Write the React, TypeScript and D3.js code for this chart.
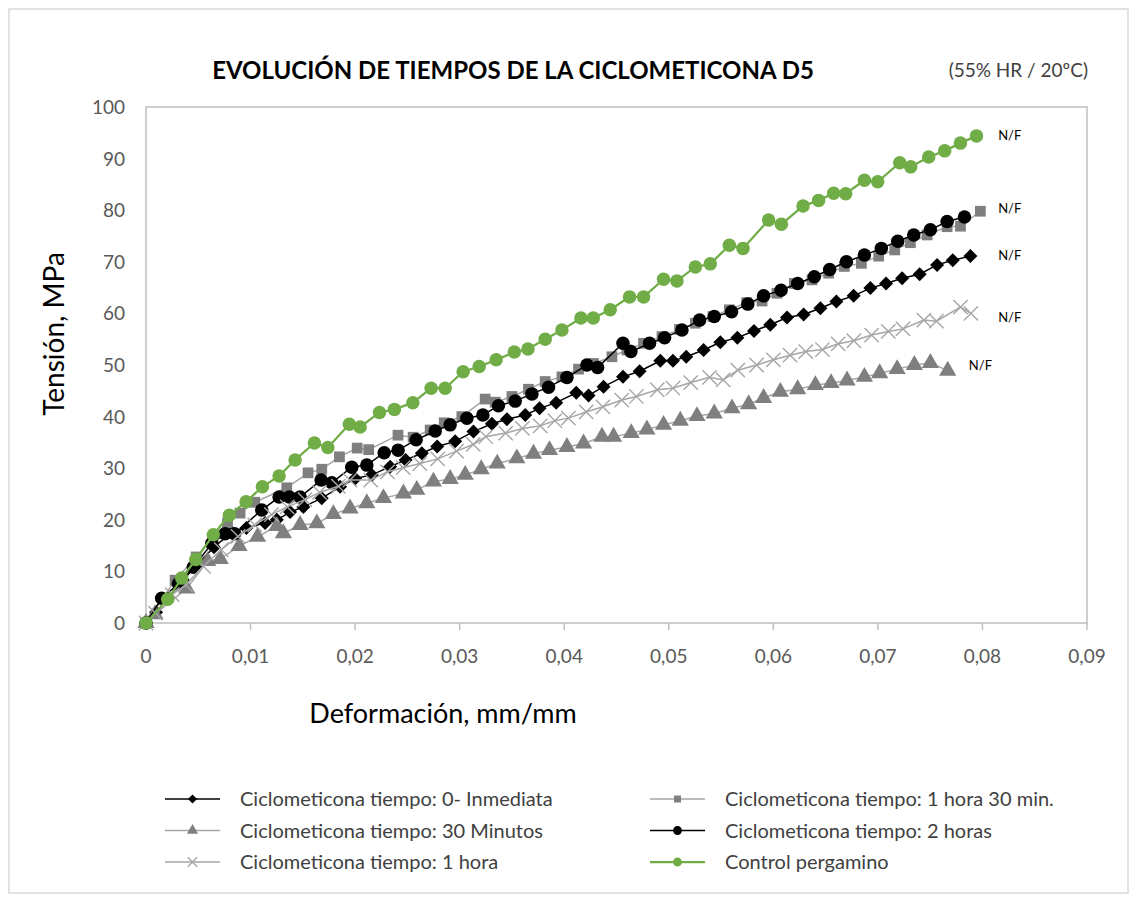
import React from 'react';
import * as d3 from 'd3';

// strain (mm/mm) , stress (MPa)
const inmediata: [number, number][] = [
  [0, 0], [0.00096, 2.1], [0.0021, 4.8], [0.00354, 8.3], [0.005, 11.6], [0.0065, 14.7],
  [0.0082, 17.6], [0.0096, 18.4], [0.01139, 19.4], [0.01251, 20.0], [0.01378, 21.5],
  [0.01505, 22.5], [0.01681, 24.2], [0.01856, 26.4], [0.02, 28.0], [0.0216, 28.7],
  [0.02335, 30.3], [0.02483, 31.6], [0.02638, 32.9], [0.02785, 34.2], [0.02957, 35.2],
  [0.03132, 37.1], [0.03308, 38.6], [0.03452, 39.5], [0.03627, 40.3], [0.03764, 41.6],
  [0.03923, 42.7], [0.04115, 44.6], [0.04233, 44.1], [0.04376, 45.8], [0.04562, 47.7],
  [0.04721, 48.8], [0.04919, 50.8], [0.0504, 50.8], [0.05167, 51.6], [0.05333, 52.9],
  [0.05493, 54.4], [0.05656, 55.3], [0.05815, 56.6], [0.05971, 57.8], [0.06131, 59.2],
  [0.0629, 59.8], [0.0645, 61.0], [0.06603, 62.3], [0.06768, 63.4], [0.06928, 64.9],
  [0.07078, 65.8], [0.07232, 66.8], [0.074, 67.6], [0.07566, 69.4], [0.07716, 70.3],
  [0.07885, 71.1],
];

const unaHoraTreinta: [number, number][] = [
  [0, 0], [0.00278, 8.3], [0.0048, 12.8], [0.0064, 16.5], [0.0078, 19.4], [0.009, 21.3],
  [0.0104, 23.4], [0.01346, 26.2], [0.0155, 29.1], [0.01681, 29.8], [0.0185, 32.2],
  [0.0202, 33.9], [0.0213, 33.6], [0.0241, 36.4], [0.02555, 36.0], [0.02718, 37.4],
  [0.02852, 38.8], [0.03021, 40.0], [0.03244, 43.4], [0.0334, 42.8], [0.035, 43.9],
  [0.03658, 45.3], [0.03818, 46.8], [0.03978, 47.7], [0.04137, 49.2], [0.0428, 50.3],
  [0.04456, 51.6], [0.046, 52.9], [0.04759, 54.2], [0.04935, 55.5], [0.05103, 56.9],
  [0.05254, 58.1], [0.05423, 59.4], [0.05579, 60.7], [0.05746, 62.1], [0.05892, 62.4],
  [0.06035, 63.9], [0.06201, 65.8], [0.0637, 66.5], [0.06529, 67.8], [0.06679, 69.1],
  [0.06842, 69.7], [0.07008, 71.1], [0.07161, 72.3], [0.07311, 73.7], [0.07471, 75.2],
  [0.07662, 76.8], [0.0779, 76.9], [0.0798, 79.8],
];

const treintaMin: [number, number][] = [
  [0, 0], [0.00086, 1.7], [0.0039, 6.7], [0.0059, 12.0], [0.0071, 12.4], [0.0089, 14.9],
  [0.01067, 16.7], [0.01251, 18.8], [0.01314, 17.4], [0.01474, 19.0], [0.01634, 19.3],
  [0.01792, 21.1], [0.01952, 22.2], [0.02112, 23.2], [0.02271, 24.2], [0.02462, 25.1],
  [0.0259, 25.8], [0.02749, 27.4], [0.02909, 27.9], [0.03053, 28.7], [0.03206, 29.8],
  [0.03359, 30.9], [0.03547, 31.9], [0.03706, 32.8], [0.03859, 33.5], [0.04026, 34.1],
  [0.04185, 34.8], [0.04361, 36.1], [0.04472, 36.1], [0.04641, 36.8], [0.04791, 37.5],
  [0.0495, 38.4], [0.0511, 39.2], [0.0527, 40.1], [0.05435, 40.6], [0.05605, 41.6],
  [0.05764, 42.4], [0.05907, 43.6], [0.06067, 44.8], [0.06233, 45.3], [0.06402, 46.1],
  [0.06552, 46.5], [0.06705, 47.0], [0.06871, 47.7], [0.07017, 48.4], [0.07184, 49.2],
  [0.07349, 50.0], [0.07502, 50.4], [0.07668, 48.9],
];

const dosHoras: [number, number][] = [
  [0, 0], [0.0015, 4.8], [0.0031, 7.6], [0.00453, 10.8], [0.00629, 15.4], [0.00756, 17.3],
  [0.00847, 17.3], [0.01107, 21.9], [0.01273, 24.4], [0.01371, 24.4], [0.01474, 24.4],
  [0.01675, 27.7], [0.01777, 27.2], [0.01968, 30.2], [0.02112, 30.6], [0.02278, 33.0],
  [0.02411, 33.5], [0.02584, 35.5], [0.02766, 37.2], [0.02909, 38.4], [0.03069, 39.7],
  [0.03222, 40.3], [0.03371, 42.1], [0.03531, 43.0], [0.03691, 44.4], [0.0385, 45.7],
  [0.04026, 47.6], [0.04217, 50.0], [0.04319, 49.5], [0.04562, 54.2], [0.04638, 52.6],
  [0.04816, 54.2], [0.0496, 55.3], [0.05126, 56.8], [0.05295, 58.7], [0.05435, 59.4],
  [0.05601, 60.3], [0.05756, 61.8], [0.05907, 63.4], [0.06074, 64.5], [0.06233, 65.8],
  [0.06392, 67.1], [0.06539, 68.5], [0.06699, 70.0], [0.06871, 71.3], [0.07033, 72.6],
  [0.0719, 74.0], [0.07343, 75.2], [0.07502, 76.2], [0.07662, 77.8], [0.07828, 78.7],
];

const unaHora: [number, number][] = [
  [0, 0], [0.0009, 1.9], [0.0025, 5.5], [0.0038, 7.4], [0.0055, 11.0], [0.0072, 14.2],
  [0.0088, 16.8], [0.0104, 19.0], [0.012, 21.0], [0.0135, 22.5], [0.0152, 23.9],
  [0.0166, 25.3], [0.0184, 26.5], [0.0195, 27.7], [0.0215, 27.7], [0.0231, 29.3],
  [0.0246, 30.1], [0.0262, 30.9], [0.0279, 31.8], [0.0297, 33.3], [0.0313, 34.6],
  [0.0325, 36.1], [0.0344, 36.8], [0.036, 37.7], [0.0377, 38.2], [0.0391, 39.2],
  [0.0404, 39.7], [0.0421, 40.9], [0.0437, 41.9], [0.0455, 43.2], [0.0469, 43.9],
  [0.0489, 45.2], [0.0504, 45.5], [0.0521, 46.6], [0.0539, 47.6], [0.0552, 47.1],
  [0.0566, 49.0], [0.0584, 50.0], [0.06, 51.0], [0.0616, 51.9], [0.0631, 52.6],
  [0.0647, 53.0], [0.0662, 54.1], [0.0677, 54.7], [0.0694, 55.8], [0.071, 56.5],
  [0.0724, 57.0], [0.0744, 58.7], [0.0756, 58.5], [0.0779, 61.2], [0.0789, 60.0],
];

const controlPergamino: [number, number][] = [
  [0, 0], [0.00208, 4.6], [0.00342, 8.7], [0.00476, 12.3], [0.00644, 17.1], [0.00797, 20.9],
  [0.00957, 23.5], [0.01113, 26.4], [0.01273, 28.5], [0.01426, 31.6], [0.01611, 34.9],
  [0.01739, 34.0], [0.01945, 38.5], [0.02048, 38.0], [0.02233, 40.8], [0.02376, 41.4],
  [0.02552, 42.7], [0.02727, 45.5], [0.02861, 45.5], [0.03033, 48.7], [0.03187, 49.7],
  [0.03349, 51.0], [0.03522, 52.5], [0.03653, 53.1], [0.03818, 55.0], [0.03978, 56.8],
  [0.0416, 59.1], [0.04278, 59.1], [0.0444, 60.7], [0.04625, 63.2], [0.04759, 63.2],
  [0.0495, 66.6], [0.05078, 66.3], [0.05254, 69.0], [0.05397, 69.6], [0.05579, 73.2],
  [0.0571, 72.6], [0.05955, 78.1], [0.06077, 77.3], [0.06284, 80.8], [0.06433, 81.9],
  [0.06577, 83.3], [0.06692, 83.2], [0.06871, 85.8], [0.06998, 85.5], [0.07209, 89.2],
  [0.07314, 88.4], [0.07486, 90.3], [0.07639, 91.5], [0.07789, 93.0], [0.07943, 94.4],
];

const xTicks = [0, 0.01, 0.02, 0.03, 0.04, 0.05, 0.06, 0.07, 0.08, 0.09];
const yTicks = [0, 10, 20, 30, 40, 50, 60, 70, 80, 90, 100];

type Marker = 'diamond' | 'square' | 'triangle' | 'circle' | 'x';

const series: { name: string; data: [number, number][]; marker: Marker; line: string; fill: string; lw: number }[] = [
  { name: 'Ciclometicona tiempo: 0- Inmediata', data: inmediata, marker: 'diamond', line: '#000000', fill: '#000000', lw: 1.5 },
  { name: 'Ciclometicona tiempo: 1 hora 30 min.', data: unaHoraTreinta, marker: 'square', line: '#a6a6a6', fill: '#7f7f7f', lw: 1.5 },
  { name: 'Ciclometicona tiempo: 30 Minutos', data: treintaMin, marker: 'triangle', line: '#a6a6a6', fill: '#7f7f7f', lw: 1.5 },
  { name: 'Ciclometicona tiempo: 2 horas', data: dosHoras, marker: 'circle', line: '#000000', fill: '#000000', lw: 1.5 },
  { name: 'Ciclometicona tiempo: 1 hora', data: unaHora, marker: 'x', line: '#a6a6a6', fill: '#a6a6a6', lw: 1.5 },
  { name: 'Control pergamino', data: controlPergamino, marker: 'circle', line: '#70ad47', fill: '#70ad47', lw: 2.25 },
];

// legend slots: [column, row]
const legendSlots: [number, number][] = [[0, 0], [1, 0], [0, 1], [1, 1], [0, 2], [1, 2]];

// N/F labels at series ends
const nfLabels: { x: number; y: number }[] = [
  { x: 0.0815, y: 94.5 },
  { x: 0.0815, y: 80.5 },
  { x: 0.0815, y: 71.3 },
  { x: 0.0815, y: 59.3 },
  { x: 0.0787, y: 50.0 },
];

const FONT = 'Lato, "Open Sans", sans-serif';

function MarkerShape({ type, fill, size }: { type: Marker; fill: string; size: number }) {
  if (type === 'x') {
    const s = size * 0.55;
    return (
      <path d={`M${-s},${-s}L${s},${s}M${-s},${s}L${s},${-s}`} stroke={fill} strokeWidth={1.4} fill="none" />
    );
  }
  if (type === 'diamond') {
    const s = size / 2;
    return <path d={`M0,${-s}L${s},0L0,${s}L${-s},0Z`} fill={fill} />;
  }
  const symType = type === 'square' ? d3.symbolSquare : type === 'triangle' ? d3.symbolTriangle : d3.symbolCircle;
  let area = size * size;
  if (type === 'circle') area = Math.PI * (size / 2) * (size / 2);
  if (type === 'square') area = size * size * 0.8;
  if (type === 'triangle') area = size * size * 0.5;
  const d = d3.symbol().type(symType).size(area)();
  return <path d={d || ''} fill={fill} stroke="none" />;
}

export default function App() {
  const W = 1136;
  const H = 902;
  const left = 146, right = 1087, top = 107, bottom = 623;

  const x = d3.scaleLinear().domain([0, 0.09]).range([left, right]);
  const y = d3.scaleLinear().domain([0, 100]).range([bottom, top]);
  const line = d3.line<[number, number]>().x(d => x(d[0])).y(d => y(d[1]));
  const fmt = (v: number) => (v === 0 ? '0' : v.toFixed(2).replace('.', ','));

  const markerSize = (m: Marker) => (m === 'circle' ? 13.5 : m === 'x' ? 13 : m === 'triangle' ? 16 : m === 'square' ? 12 : 14);

  return (
    <svg width={W} height={H} style={{ position: 'absolute', left: 0, top: 0 }}>
      <rect x={0} y={0} width={W} height={H} fill="#ffffff" />
      <rect x={9} y={9} width={1119} height={884} fill="#ffffff" stroke="#d9d9d9" strokeWidth={1.5} />

      <text x={513} y={79} textAnchor="middle" fontFamily={FONT} fontWeight="bold" fontSize={24} fill="#000">
        EVOLUCIÓN DE TIEMPOS DE LA CICLOMETICONA D5
      </text>
      <text x={1088} y={77} textAnchor="end" fontFamily={FONT} fontSize={19} fill="#404040">
        (55% HR / 20ºC)
      </text>

      {/* plot frame */}
      <rect x={left} y={top} width={right - left} height={bottom - top} fill="none" stroke="#bfbfbf" strokeWidth={1.5} />

      {xTicks.map(t => (
        <g key={'xt' + t}>
          <line x1={x(t)} x2={x(t)} y1={bottom} y2={bottom + 7} stroke="#bfbfbf" strokeWidth={1.5} />
          <text x={x(t)} y={663} textAnchor="middle" fontFamily={FONT} fontSize={19} fill="#595959">
            {fmt(t)}
          </text>
        </g>
      ))}
      {yTicks.map(t => (
        <text key={'yt' + t} x={125} y={y(t) + 7} textAnchor="end" fontFamily={FONT} fontSize={19} fill="#595959">
          {t}
        </text>
      ))}

      <text transform={`translate(64,${334}) rotate(-90)`} textAnchor="middle" fontFamily={FONT} fontSize={28} fill="#000">
        Tensión, MPa
      </text>
      <text x={443} y={723} textAnchor="middle" fontFamily={FONT} fontSize={27} fill="#000">
        Deformación, mm/mm
      </text>

      {series.map(s => (
        <g key={s.name}>
          <path d={line(s.data) || ''} fill="none" stroke={s.line} strokeWidth={s.lw} />
          {s.data.map((d, i) => (
            <g key={i} transform={`translate(${x(d[0])},${y(d[1])})`}>
              <MarkerShape type={s.marker} fill={s.fill} size={markerSize(s.marker)} />
            </g>
          ))}
        </g>
      ))}

      {nfLabels.map((n, i) => (
        <text key={'nf' + i} x={x(n.x)} y={y(n.y) + 5} fontFamily={FONT} fontSize={13} fill="#000">
          N/F
        </text>
      ))}

      {series.map((s, i) => {
        const [col, row] = legendSlots[i];
        const lx = col === 0 ? 165 : 650;
        const ly = 799 + row * 31.5;
        return (
          <g key={'lg' + s.name}>
            <line x1={lx} x2={lx + 55} y1={ly} y2={ly} stroke={s.line} strokeWidth={s.lw} />
            <g transform={`translate(${lx + 27.5},${ly})`}>
              <MarkerShape type={s.marker} fill={s.fill} size={markerSize(s.marker) * 0.65} />
            </g>
            <text x={lx + 75} y={ly + 7} fontFamily={FONT} fontSize={20} fill="#404040">
              {s.name}
            </text>
          </g>
        );
      })}
    </svg>
  );
}
